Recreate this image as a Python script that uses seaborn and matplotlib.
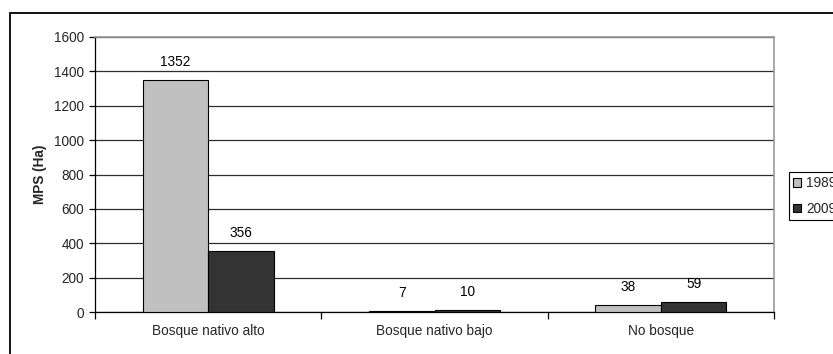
import matplotlib
matplotlib.use("Agg")
import matplotlib.pyplot as plt
import matplotlib.patches as mpatches
import seaborn as sns
import pandas as pd

categories = ["Bosque nativo alto", "Bosque nativo bajo", "No bosque"]
years = ["1989", "2009"]
values_1989 = [1352, 7, 38]
values_2009 = [356, 10, 59]
y_ticks = [0, 200, 400, 600, 800, 1000, 1200, 1400, 1600]
y_label = "MPS (Ha)"

df = pd.DataFrame({
    "categoria": categories * 2,
    "anio": [years[0]] * 3 + [years[1]] * 3,
    "mps": values_1989 + values_2009,
})

sns.set_style("white")
plt.rcParams["font.family"] = ["Liberation Sans", "DejaVu Sans"]
FS = 9.8
plt.rcParams["font.size"] = FS

W, H = 833, 354
fig = plt.figure(figsize=(W / 100, H / 100), dpi=100)
ax = fig.add_axes([95 / W, 1 - 312 / H, (774 - 95) / W, (312 - 37) / H])

sns.barplot(data=df, x="categoria", y="mps", hue="anio", order=categories,
            hue_order=years, palette={"1989": "#C0C0C0", "2009": "#333333"},
            edgecolor="black", linewidth=0.8, width=0.58, gap=0,
            saturation=1, ax=ax, legend=True, zorder=3)

# value labels above each bar
for container in ax.containers:
    for bar in container:
        v = bar.get_height()
        ax.annotate(f"{v:g}", (bar.get_x() + bar.get_width() / 2, v),
                    xytext=(0, 8), textcoords="offset points",
                    ha="center", va="bottom", fontsize=FS, color="black")

ax.set_ylim(0, 1600)
ax.set_yticks(y_ticks)
ax.set_xlim(-0.5, 2.5)
ax.set_xlabel("")
ax.set_ylabel(y_label, fontsize=FS, fontweight="bold", labelpad=5)

ax.yaxis.grid(True, color="#2e2e2e", linewidth=0.9, zorder=0)
ax.set_axisbelow(True)

# category separators as downward minor ticks
ax.set_xticks([-0.5, 0.5, 1.5, 2.5], minor=True)
ax.tick_params(axis="x", which="major", length=0, pad=9, labelsize=FS)
ax.tick_params(axis="x", which="minor", length=5, width=0.9, color="black",
               direction="out", bottom=True)
ax.tick_params(axis="y", which="major", length=4, width=0.9, color="black",
               direction="out", left=True, labelsize=FS, pad=4)

for side in ["left", "bottom"]:
    ax.spines[side].set_color("black")
    ax.spines[side].set_linewidth(0.9)
for side in ["top", "right"]:
    ax.spines[side].set_visible(True)
    ax.spines[side].set_color("#9a9a9a")
    ax.spines[side].set_linewidth(1.2)

# legend on the right
handles, labels = ax.get_legend_handles_labels()
ax.get_legend().remove()
leg = fig.legend(handles, labels, loc="upper left",
                 bbox_to_anchor=(789 / W, 1 - 172 / H), frameon=True,
                 fancybox=False, edgecolor="black", framealpha=1,
                 handlelength=0.6, handleheight=0.6, handletextpad=0.35,
                 labelspacing=0.85, borderpad=0.3, borderaxespad=0,
                 fontsize=FS)
leg.get_frame().set_linewidth(0.8)

# outer chart frame
frame = mpatches.Rectangle((10 / W, -0.2), 1.0, 1 - 13 / H + 0.2,
                           transform=fig.transFigure, fill=False,
                           edgecolor="black", linewidth=1.3)
fig.patches.append(frame)

fig.savefig("out.png", dpi=100)
